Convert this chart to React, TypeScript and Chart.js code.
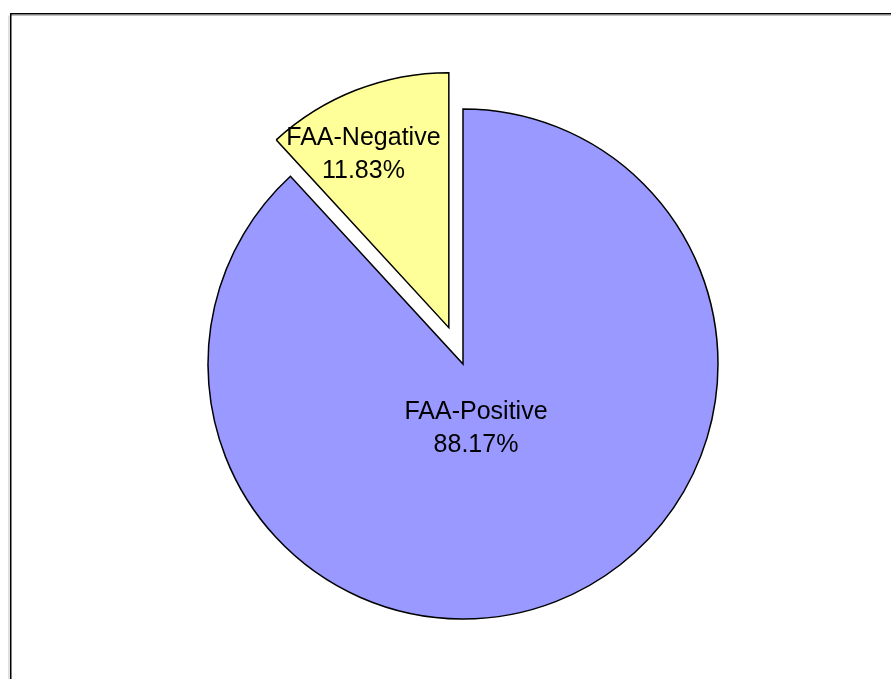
import React, { useEffect, useRef } from "react";
import { Chart, registerables } from "chart.js";

Chart.register(...registerables);

const categories = ["FAA-Positive", "FAA-Negative"];
const percentValues = [88.17, 11.83];
const percentLabels = ["88.17%", "11.83%"];
const sliceColors = ["#9999FF", "#FFFF99"];
const explodePx = [0, 39];
// label anchor relative to the (exploded) slice centre, as a fraction of the radius
const labelAnchorX = [0.051, -0.335];
const labelAnchorY = [0.28, -0.65];

const FONT = '25px "Liberation Sans", Arial, sans-serif';
const LINE_GAP = 33;

const explodePlugin = {
  id: "explodeSlices",
  afterDatasetsUpdate(chart: any) {
    const meta = chart.getDatasetMeta(0);
    meta.data.forEach((arc: any, i: number) => {
      const d = explodePx[i] || 0;
      if (!d) return;
      const mid = (arc.startAngle + arc.endAngle) / 2;
      arc.x += Math.cos(mid) * d;
      arc.y += Math.sin(mid) * d;
    });
  },
};

const framePlugin = {
  id: "frame",
  beforeDraw(chart: any) {
    const ctx = chart.ctx;
    ctx.save();
    ctx.strokeStyle = "#c0c0c0";
    ctx.lineWidth = 1;
    ctx.beginPath();
    ctx.moveTo(9, chart.height + 5);
    ctx.lineTo(9, 15.5);
    ctx.moveTo(10, 15.5);
    ctx.lineTo(chart.width + 5, 15.5);
    ctx.stroke();
    ctx.strokeStyle = "#000";
    ctx.lineWidth = 1.5;
    ctx.beginPath();
    ctx.moveTo(10.75, chart.height + 5);
    ctx.lineTo(10.75, 13.75);
    ctx.lineTo(chart.width + 5, 13.75);
    ctx.stroke();
    ctx.restore();
  },
};

const labelPlugin = {
  id: "sliceLabels",
  afterDatasetsDraw(chart: any) {
    const ctx = chart.ctx;
    const meta = chart.getDatasetMeta(0);
    ctx.save();
    ctx.font = FONT;
    ctx.fillStyle = "#000";
    ctx.textAlign = "center";
    ctx.textBaseline = "alphabetic";
    meta.data.forEach((arc: any, i: number) => {
      const r = arc.outerRadius;
      const cx = arc.x + labelAnchorX[i] * r;
      const cy = arc.y + labelAnchorY[i] * r;
      ctx.fillText(categories[i], cx, cy - LINE_GAP / 2);
      ctx.fillText(percentLabels[i], cx, cy + LINE_GAP / 2);
    });
    ctx.restore();
  },
};

export default function App() {
  const canvasRef = useRef<HTMLCanvasElement | null>(null);

  useEffect(() => {
    const canvas = canvasRef.current;
    if (!canvas) return;
    const chart = new Chart(canvas, {
      type: "pie",
      data: {
        labels: categories,
        datasets: [
          {
            data: percentValues,
            backgroundColor: sliceColors,
            borderColor: "#000",
            borderWidth: 1.5,
            borderJoinStyle: "miter",
          } as any,
        ],
      },
      options: {
        animation: false,
        responsive: false,
        maintainAspectRatio: false,
        radius: 255,
        rotation: 0,
        layout: { padding: { left: 35, top: 49, right: 0, bottom: 0 } },
        plugins: {
          legend: { display: false },
          tooltip: { enabled: false },
          title: { display: false },
        },
        events: [],
      } as any,
      plugins: [explodePlugin, framePlugin, labelPlugin],
    });
    return () => chart.destroy();
  }, []);

  return (
    <div
      style={{
        position: "fixed",
        left: 0,
        top: 0,
        width: 891,
        height: 679,
        background: "#fff",
      }}
    >
      <canvas ref={canvasRef} width={891} height={679} style={{ display: "block" }} />
    </div>
  );
}
